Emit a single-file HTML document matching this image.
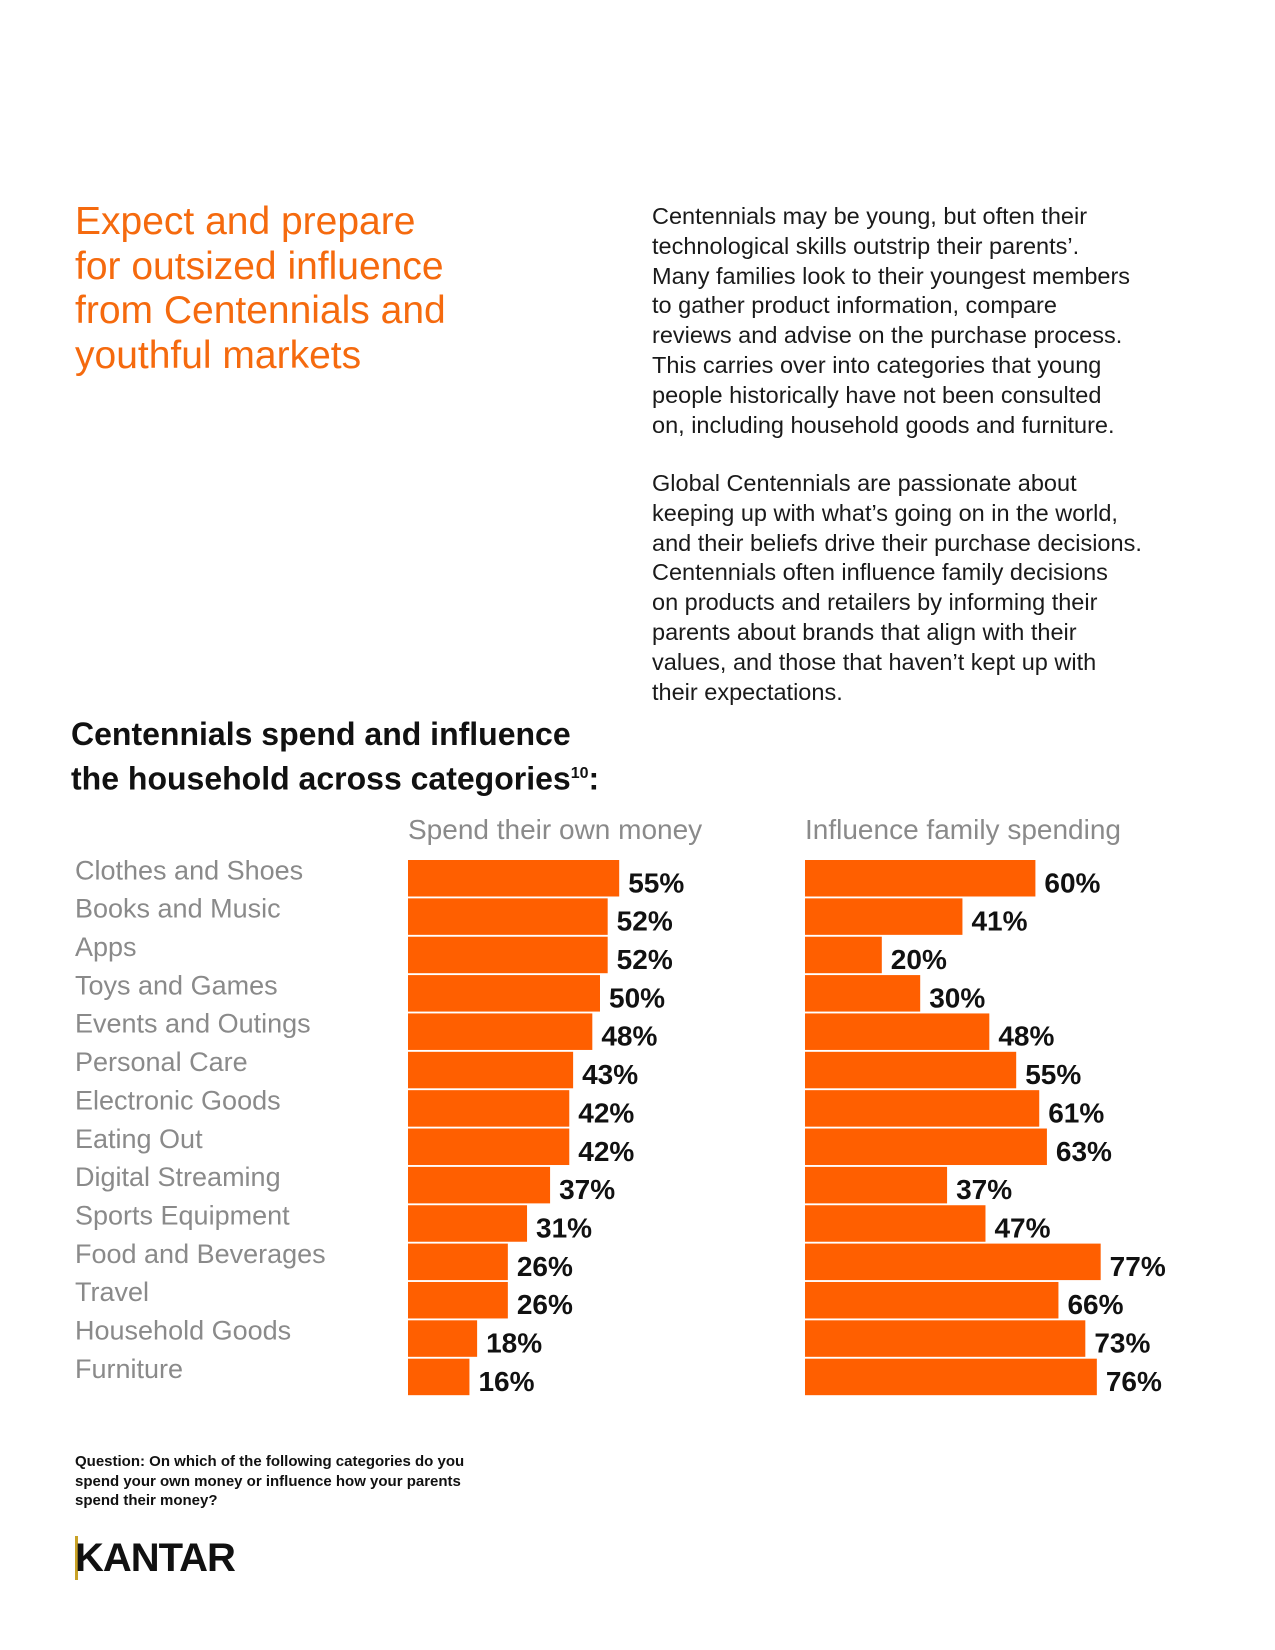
<!DOCTYPE html>
<html><head><meta charset="utf-8">
<style>
body{margin:0;width:1275px;height:1650px;background:#fff;position:relative;font-family:"Liberation Sans",sans-serif;overflow:hidden}
.abs{position:absolute;margin:0}
#title{left:75px;top:200px;color:#f56a0e;font-size:39px;line-height:44.6px;width:540px;white-space:nowrap}
.para{left:652px;color:#1a1a1a;font-size:23.5px;line-height:29.8px;width:620px;white-space:nowrap}
#ctitle{left:71px;top:714px;font-size:32px;font-weight:bold;line-height:40px;color:#111}
#foot{left:75px;top:1452px;font-size:15px;font-weight:bold;line-height:19.5px;color:#111}
#logo{left:75px;top:1536px;font-size:40px;font-weight:bold;color:#111;letter-spacing:-1px}
</style></head><body>
<h1 class="abs" id="title" style="font-weight:normal">Expect and prepare<br>for outsized influence<br>from Centennials and<br>youthful markets</h1>
<p class="abs para" style="top:202px">Centennials may be young, but often their<br>technological skills outstrip their parents’.<br>Many families look to their youngest members<br>to gather product information, compare<br>reviews and advise on the purchase process.<br>This carries over into categories that young<br>people historically have not been consulted<br>on, including household goods and furniture.</p>
<p class="abs para" style="top:469px">Global Centennials are passionate about<br>keeping up with what’s going on in the world,<br>and their beliefs drive their purchase decisions.<br>Centennials often influence family decisions<br>on products and retailers by informing their<br>parents about brands that align with their<br>values, and those that haven’t kept up with<br>their expectations.</p>
<div class="abs" id="ctitle">Centennials spend and influence<br>the household across categories<sup style="font-size:16px">10</sup>:</div>
<svg class="abs" style="left:0;top:0" width="1275" height="1650" id="chart"></svg>
<p class="abs" id="foot">Question: On which of the following categories do you<br>spend your own money or influence how your parents<br>spend their money?</p>
<div class="abs" id="logo"><span style="border-left:3px solid #c9a227;margin-right:-3px"></span>KANTAR</div>
<script>
const categories=["Clothes and Shoes","Books and Music","Apps","Toys and Games","Events and Outings","Personal Care","Electronic Goods","Eating Out","Digital Streaming","Sports Equipment","Food and Beverages","Travel","Household Goods","Furniture"];
const spendValues=[55,52,52,50,48,43,42,42,37,31,26,26,18,16];
const influenceValues=[60,41,20,30,48,55,61,63,37,47,77,66,73,76];
const seriesTitles=["Spend their own money","Influence family spending"];
const NS="http://www.w3.org/2000/svg";
const svg=document.getElementById('chart');
const top0=860,pitch=38.36,barH=36.5,pxPer=3.84;
const yPos=i=>top0+i*pitch;
const xLen=v=>v*pxPer;
function mk(t,a){const e=document.createElementNS(NS,t);for(const k in a)e.setAttribute(k,a[k]);svg.appendChild(e);return e;}
categories.forEach((c,i)=>{
 const t=mk('text',{x:75,y:yPos(i)+barH/2+1,'font-size':27,fill:'#8a8a8a','font-family':'Liberation Sans, sans-serif'});
 t.textContent=c;
 
 
});
[[spendValues,408],[influenceValues,805]].forEach(([vals,x0],s)=>{
 const h=mk('text',{x:x0,y:839,'font-size':28,fill:'#8a8a8a'});
 h.textContent=seriesTitles[s];
 
 
 vals.forEach((v,i)=>{
  const r=mk('rect',{x:x0,y:yPos(i),width:xLen(v),height:barH,fill:'#ff5f00'});
  
  
  const t=mk('text',{x:x0+xLen(v)+9,y:yPos(i)+barH/2+14,'font-size':28,'font-weight':'bold',fill:'#111'});
  t.textContent=v+'%';
  
  
 });
});
</script>
</body></html>
